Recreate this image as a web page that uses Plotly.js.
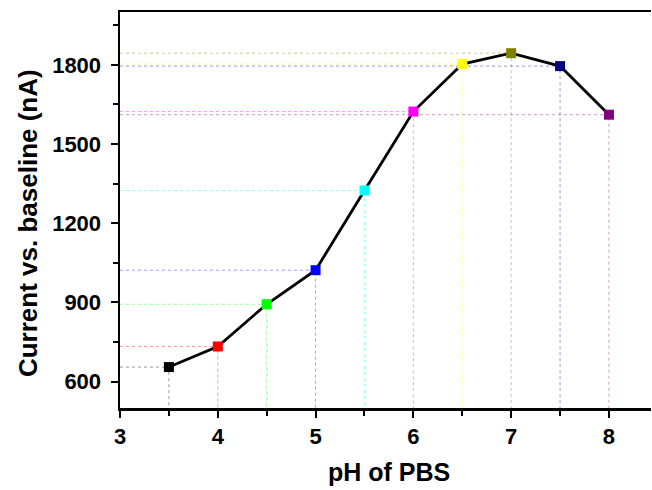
<!DOCTYPE html>
<html>
<head>
<meta charset="utf-8">
<script src="https://cdn.plot.ly/plotly-3.0.1.min.js"></script>
<style>html,body{margin:0;padding:0;background:#fff;}#chart{width:652px;height:490px;}</style>
</head>
<body>
<div id="chart"></div>
<script>
const pH = [3.5, 4.0, 4.5, 5.0, 5.5, 6.0, 6.5, 7.0, 7.5, 8.0];
const current = [655, 733, 893, 1022, 1324, 1623, 1803, 1844, 1795, 1611];
const pointColors = ['#000000', '#ff0000', '#00ff00', '#0000ff', '#00ffff', '#ff00ff', '#ffff00', '#808000', '#000080', '#800080'];
const xTickVals = [3, 4, 5, 6, 7, 8];
const yTickVals = [600, 900, 1200, 1500, 1800];
const xRange = [3, 8.43];
const yRange = [500, 2000];

const traces = [];
// dotted drop lines to axes
pH.forEach((x, i) => {
  traces.push({
    x: [xRange[0], x, x],
    y: [current[i], current[i], yRange[0]],
    mode: 'lines',
    line: {color: pointColors[i], width: 1, dash: 'dot'},
    opacity: 0.4,
    hoverinfo: 'skip',
    showlegend: false
  });
});
traces.push({
  x: pH, y: current,
  mode: 'lines',
  line: {color: '#000', width: 2.8},
  showlegend: false
});
traces.push({
  x: pH, y: current,
  mode: 'markers',
  marker: {symbol: 'square', size: 10, color: pointColors, line: {width: 0}},
  showlegend: false
});

const font = {family: 'Liberation Sans, Arial, sans-serif', color: '#000'};
const layout = {
  width: 652, height: 490,
  margin: {l: 120, r: 1, t: 12, b: 82},
  paper_bgcolor: '#fff', plot_bgcolor: '#fff',
  font: font,
  xaxis: {
    range: xRange, tickvals: xTickVals, ticktext: xTickVals.map(String),
    showgrid: false, zeroline: false,
    showline: true, linecolor: '#000', linewidth: 2.5, mirror: true,
    ticks: 'outside', ticklen: 7, tickwidth: 2, tickcolor: '#000',
    minor: {dtick: 0.5, tick0: 3, ticks: 'outside', ticklen: 5, tickwidth: 2, tickcolor: '#000', showgrid: false},
    tickfont: {family: font.family, size: 22, color: '#000', weight: 'bold'}
  },
  yaxis: {
    range: yRange, tickvals: yTickVals, ticktext: yTickVals.map(String),
    showgrid: false, zeroline: false,
    showline: true, linecolor: '#000', linewidth: 2.5, mirror: false,
    ticks: 'outside', ticklen: 7, tickwidth: 2, tickcolor: '#000',
    ticklabelstandoff: 5,
    minor: {dtick: 150, tick0: 600, ticks: 'outside', ticklen: 5, tickwidth: 2, tickcolor: '#000', showgrid: false},
    tickfont: {family: font.family, size: 22, color: '#000', weight: 'bold'}
  },
  annotations: [{
    text: '<b>Current vs. baseline (nA)</b>',
    xref: 'paper', yref: 'paper',
    x: -0.1733, y: 0.467, xanchor: 'center', yanchor: 'middle',
    textangle: -90, showarrow: false,
    font: {family: font.family, size: 26, color: '#000'}
  }, {
    text: '<b>pH of PBS</b>',
    xref: 'paper', yref: 'paper',
    x: 0.5075, y: -0.162, xanchor: 'center', yanchor: 'middle',
    showarrow: false, borderpad: 0,
    font: {family: font.family, size: 25, color: '#000'}
  }]
};
Plotly.newPlot('chart', traces, layout, {staticPlot: true, displayModeBar: false});
</script>
</body>
</html>
